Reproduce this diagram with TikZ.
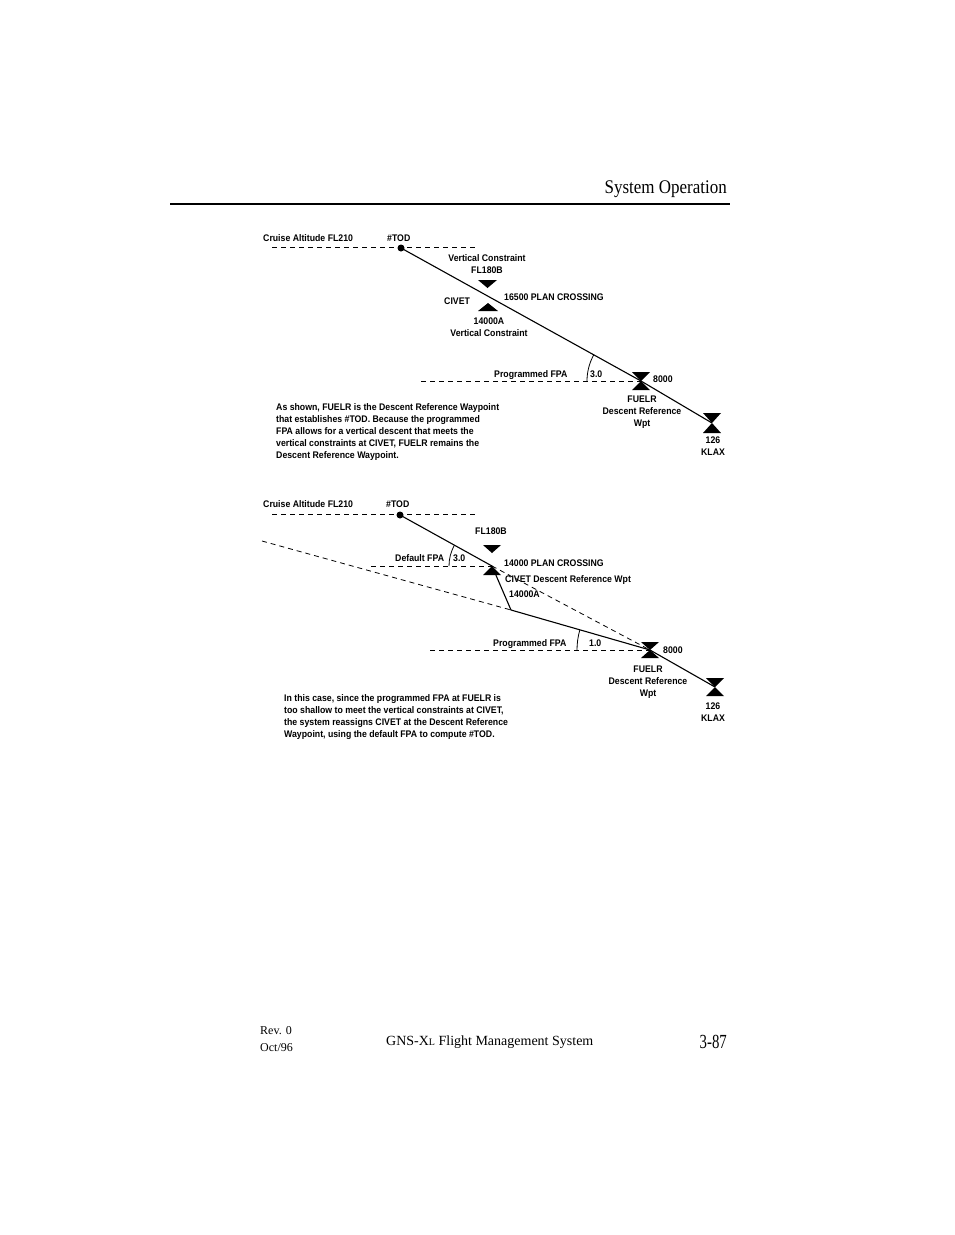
\documentclass[tikz,border=0pt]{standalone}
\usepackage{fontspec}
\newfontfamily\labf{Liberation Sans}[FakeStretch=0.91]
\newfontfamily\serf{Liberation Serif}[FakeStretch=0.88]
\newfontfamily\serw{Liberation Serif}
\newfontfamily\sern{Liberation Serif}[FakeStretch=0.74]
\newcommand\labfont{\labf\bfseries\fontsize{9.6}{12}\selectfont}
\begin{document}
\begin{tikzpicture}[x=1pt,y=-1pt,
  lab/.style={font=\labfont, inner sep=0pt},
  labc/.style={font=\labfont, inner sep=0pt, align=center, anchor=north},
  para/.style={font=\labfont, inner sep=0pt, align=left, anchor=north west},
  mainline/.style={line width=1.1pt},
  dsh/.style={line width=0.8pt, dash pattern=on 5pt off 4pt},
  tod/.style={circle, fill=black, inner sep=0pt, minimum size=7pt},
  ser/.style={inner sep=0pt}]
\useasboundingbox (0,0) rectangle (954,1235);

% header
\node[ser, anchor=base east, font=\serf\fontsize{19.3}{21}\selectfont] (hdr) at (727,193) {System Operation};
\draw[line width=1.8pt] (170,204) -- (730,204);

% ============ top diagram ============
\node[tod] (tod1) at (401,248) {};
\coordinate (fuelr1) at (641,381);
\coordinate (klax1) at (712,423);
\coordinate (cr1a) at (272,247);
\coordinate (cr1b) at (478,247);
\coordinate (pf1) at (421,381);
\draw[dsh] (cr1a) -- (cr1b);
\draw[dsh] (pf1) -- (fuelr1);
\draw[mainline] (tod1.center) -- (fuelr1) -- (klax1);
\draw[line width=0.8pt] (fuelr1) ++(180:54) arc[start angle=180, end angle=209, radius=54];
% constraint triangles
\fill (478,280) -- (497,280) -- (487.5,288) -- cycle;
\fill (478,311) -- (498,311) -- (488,303) -- cycle;
% waypoint bowties
\fill (fuelr1) ++(-9,-9) -- ++(18,0) -- (fuelr1) -- cycle;
\fill (fuelr1) ++(-9,9) -- ++(18,0) -- (fuelr1) -- cycle;
\fill (klax1) ++(-9,-10) -- ++(18,0) -- (klax1) -- cycle;
\fill (klax1) ++(-9,10) -- ++(18,0) -- (klax1) -- cycle;

\node[lab, anchor=base west] (cr1) at (263,241.5) {Cruise Altitude FL210};
\node[lab, anchor=base west] (tt1) at (387,241.5) {\#TOD};
\node[labc] (vc1) at (487,254.5) {Vertical Constraint\\FL180B};
\node[lab, anchor=base west] (cv1) at (444,304.5) {CIVET};
\node[lab, anchor=base west] (pc1) at (504,300.5) {16500 PLAN CROSSING};
\node[labc] (vc2) at (489,317.5) {14000A\\Vertical Constraint};
\node[lab, anchor=base west] (pfl1) at (494,377.5) {Programmed FPA};
\node[lab, anchor=base west] (ang1) at (590,377.5) {3.0};
\node[lab, anchor=base west] (alt1) at (653,382.5) {8000};
\node[labc] (fu1) at (642,395.5) {FUELR\\Descent Reference\\Wpt};
\node[labc] (kl1) at (713,436.5) {126\\KLAX};
\node[para] (p1) at (276,403.5) {As shown, FUELR is the Descent Reference Waypoint\\that establishes \#TOD. Because the programmed\\FPA allows for a vertical descent that meets the\\vertical constraints at CIVET, FUELR remains the\\Descent Reference Waypoint.};

% ============ bottom diagram ============
\node[tod] (tod2) at (400,515) {};
\coordinate (civ2) at (492,566);
\coordinate (kink2) at (511,610);
\coordinate (fuelr2) at (650,650);
\coordinate (klax2) at (715,687);
\coordinate (cr2a) at (272,514);
\coordinate (cr2b) at (478,514);
\coordinate (ext2) at (262,541);
\coordinate (df2) at (371,566);
\coordinate (pf2) at (430,650);
\draw[dsh] (cr2a) -- (cr2b);
\draw[dsh] (ext2) -- (kink2);
\draw[dsh] (civ2) -- (fuelr2);
\draw[dsh] (df2) -- (civ2);
\draw[dsh] (pf2) -- (fuelr2);
\draw[mainline] (tod2.center) -- (civ2) -- (kink2) -- (fuelr2) -- (klax2);
\draw[line width=0.8pt] (civ2) ++(180:43) arc[start angle=180, end angle=209, radius=43];
\draw[line width=0.8pt] (fuelr2) ++(180:73) arc[start angle=180, end angle=196, radius=73];
\fill (483,545) -- (501,545) -- (492,553) -- cycle;
\fill (483,575) -- (501,575) -- (civ2) -- cycle;
\fill (fuelr2) ++(-9,-8) -- ++(18,0) -- (fuelr2) -- cycle;
\fill (fuelr2) ++(-9,8) -- ++(18,0) -- (fuelr2) -- cycle;
\fill (klax2) ++(-9,-9) -- ++(18,0) -- (klax2) -- cycle;
\fill (klax2) ++(-9,9) -- ++(18,0) -- (klax2) -- cycle;

\node[lab, anchor=base west] (cr2) at (263,507.5) {Cruise Altitude FL210};
\node[lab, anchor=base west] (tt2) at (386,507.5) {\#TOD};
\node[lab, anchor=base] (fl2) at (491,534.5) {FL180B};
\node[lab, anchor=base west] (dfl) at (395,561.5) {Default FPA};
\node[lab, anchor=base west] (ang2) at (453,561.5) {3.0};
\node[lab, anchor=base west] (pc2) at (504,566.5) {14000 PLAN CROSSING};
\node[lab, anchor=base west] (cv2) at (505,582.5) {CIVET Descent Reference Wpt};
\node[lab, anchor=base west] (ca2) at (509,597.5) {14000A};
\node[lab, anchor=base west] (pfl2) at (493,646.5) {Programmed FPA};
\node[lab, anchor=base west] (ang3) at (589,646.5) {1.0};
\node[lab, anchor=base west] (alt2) at (663,653.5) {8000};
\node[labc] (fu2) at (648,665.5) {FUELR\\Descent Reference\\Wpt};
\node[labc] (kl2) at (713,702.5) {126\\KLAX};
\node[para] (p2) at (284,694.5) {In this case, since the programmed FPA at FUELR is\\too shallow to meet the vertical constraints at CIVET,\\the system reassigns CIVET at the Descent Reference\\Waypoint, using the default FPA to compute \#TOD.};

% footer
\node[ser, anchor=base west, font=\serw\fontsize{12}{14}\selectfont] (rev) at (260,1034) {Rev. 0};
\node[ser, anchor=base west, font=\serw\fontsize{12}{14}\selectfont] (oct) at (260,1051) {Oct/96};
\node[ser, anchor=base west, font=\serw\fontsize{14}{16}\selectfont] (gns) at (386,1045) {GNS-X{\fontsize{10}{10}\selectfont L} Flight Management System};
\node[ser, anchor=base east, font=\sern\fontsize{20}{22}\selectfont] (pg) at (727,1048) {3-87};
\end{tikzpicture}
\end{document}
